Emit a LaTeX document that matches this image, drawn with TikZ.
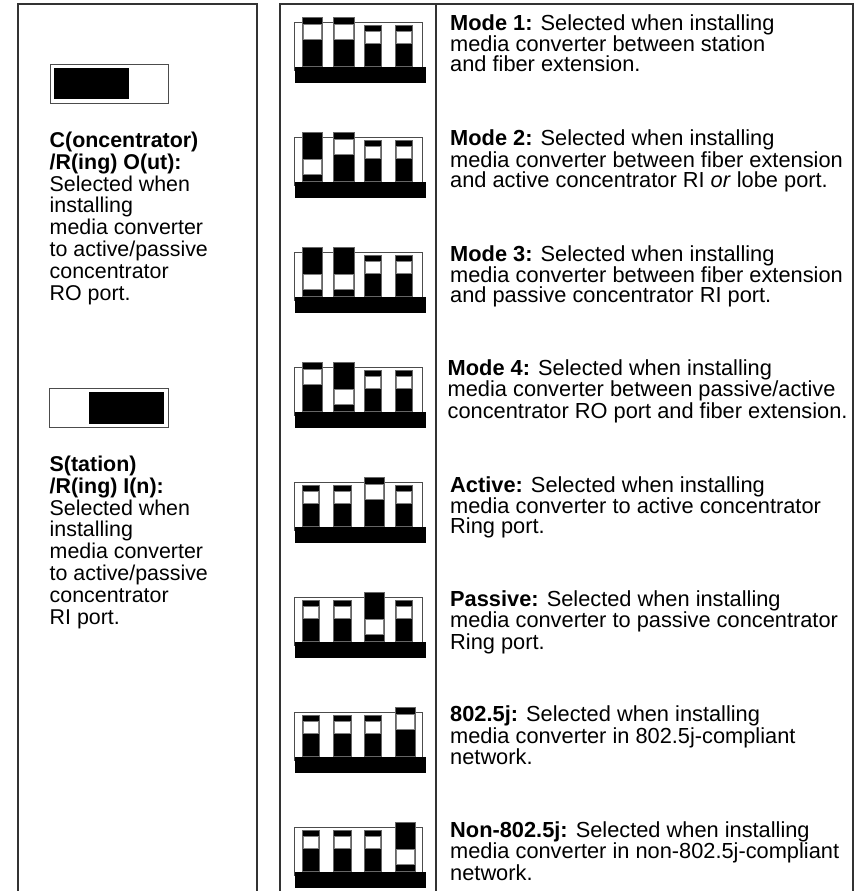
\documentclass[tikz,border=0pt]{standalone}
\usepackage{fontspec}
\setmainfont{Liberation Sans}

% one slide of a DIP switch: left x, frame top, n = down, u = up (window high), d = up (window low)
\newcommand{\dipsw}[3]{%
  \if#3n
    \filldraw[lever] (#1,#2+2.6) rectangle ++(17.5,40.7);
    \filldraw[window] (#1+1,#2+8.3) rectangle ++(15.5,12.7);
  \else
    \filldraw[lever] (#1,#2-5.7) rectangle ++(20.5,49);
    \if#3u
      \filldraw[window] (#1+1,#2+1.3) rectangle ++(18.5,15);
    \else
      \filldraw[window] (#1+1,#2+21.3) rectangle ++(18.5,15);
    \fi
  \fi}

\begin{document}
\begin{tikzpicture}[x=1pt, y=-1pt,
        rule/.style={
            draw=black!80,
            line width=1.2pt},
        frame/.style={
            draw=black!70,
            line width=0.8pt},
        lever/.style={
            fill=black,
            draw=black!60,
            line width=0.5pt},
        window/.style={
            fill=white,
            draw=black!50,
            line width=0.5pt},
        desc/.style={
            anchor=base west,
            inner sep=0pt,
            align=left,
            font=\fontsize{21.8}{20}\selectfont},
        side/.style={
            anchor=base west,
            inner sep=0pt,
            align=left,
            font=\fontsize{21.4}{21.8}\selectfont}
        ]

    \useasboundingbox (0,0) rectangle (861,891);

    % table rules
    \draw [rule] (18,891) -- (18,4) -- (257,4) -- (257,891);
    \draw [rule] (280,891) -- (280,4) -- (853,4) -- (853,891);
    \draw [rule] (436,4) -- (436,891);

    % left column: the two positions of the slide switch
    \draw [frame] (50,64) rectangle (168,103);
    \fill (54,68) rectangle (129,99);
    \draw [frame] (49,388) rectangle (168,427);
    \fill (89,392) rectangle (164,424);

    % text nodes sit on the baseline of their last line
    \node (co) [side] at (49.5,300) {\textbf{C(oncentrator)}\\\textbf{/R(ing) O(ut):}\\Selected when\\installing\\media converter\\to active/passive\\concentrator\\RO port.};
    \node (si) [side] at (49.5,624) {\textbf{S(tation)}\\\textbf{/R(ing) I(n):}\\Selected when\\installing\\media converter\\to active/passive\\concentrator\\RI port.};

    % middle column: DIP switch settings
    \foreach \T/\sa/\sb/\sc/\sd in {22.7/u/u/n/n, 137.7/d/u/n/n, 252.7/d/d/n/n, 367.7/u/d/n/n,
                                     482.7/n/n/u/n, 597.7/n/n/d/n, 712.7/n/n/n/u, 827.7/n/n/n/d} {
        \draw [frame] (294,\T) rectangle (422,\T+48);
        \dipsw{302}{\T}{\sa}
        \dipsw{333.5}{\T}{\sb}
        \dipsw{364}{\T}{\sc}
        \dipsw{395}{\T}{\sd}
        \fill (295,\T+44) rectangle (426,\T+60.6);
    }

    % right column: what each setting is for
    \node (mode1) [desc] at (450,71.5) {\textbf{Mode 1:} Selected when installing\\media converter between station\\and fiber extension.};
    \node (mode2) [desc] at (450,187) {\textbf{Mode 2:} Selected when installing\\media converter between fiber extension\\and active concentrator RI \textit{or} lobe port.};
    \node (mode3) [desc] at (450,302.5) {\textbf{Mode 3:} Selected when installing\\media converter between fiber extension\\and passive concentrator RI port.};
    \node (mode4) [desc] at (447.5,418) {\textbf{Mode 4:} Selected when installing\\media converter between passive/active\\concentrator RO port and fiber extension.};
    \node (active) [desc] at (450,533.5) {\textbf{Active:} Selected when installing\\media converter to active concentrator\\Ring port.};
    \node (passive) [desc] at (450,649) {\textbf{Passive:} Selected when installing\\media converter to passive concentrator\\Ring port.};
    \node (std) [desc] at (450,764.5) {\textbf{802.5j:} Selected when installing\\media converter in 802.5j-compliant\\network.};
    \node (nonstd) [desc] at (450,880) {\textbf{Non-802.5j:} Selected when installing\\media converter in non-802.5j-compliant\\network.};

\end{tikzpicture}
\end{document}
